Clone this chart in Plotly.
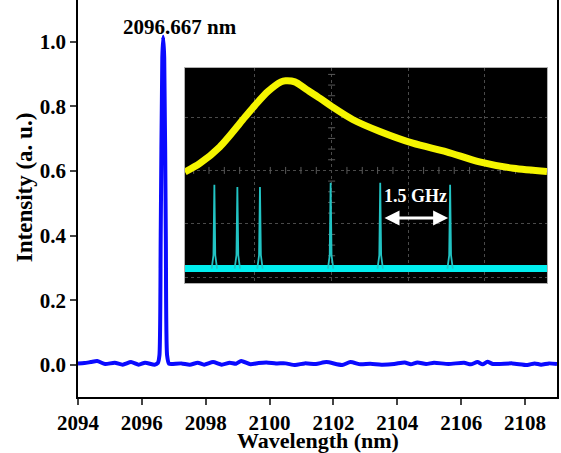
import plotly.graph_objects as go

# ---------------- main spectrum data ----------------
wavelength = [2094.0, 2094.2, 2094.4, 2094.6, 2094.85, 2095.15, 2095.4, 2095.66, 2095.9, 2096.1,
              2096.4, 2096.5, 2096.55, 2096.59, 2096.64, 2096.667, 2096.70, 2096.75, 2096.79, 2096.85,
              2096.93, 2097.24, 2097.5, 2097.75, 2097.95, 2098.23, 2098.5, 2098.75, 2098.95, 2099.11,
              2099.4, 2099.65, 2099.9, 2100.2, 2100.5, 2100.8, 2101.1, 2101.45, 2101.78, 2102.27,
              2102.53, 2102.85, 2103.15, 2103.5, 2103.9, 2104.23, 2104.42, 2104.63, 2104.9, 2105.15,
              2105.6, 2106.09, 2106.3, 2106.51, 2106.67, 2106.82, 2107.0, 2107.6, 2108.07, 2108.3,
              2108.5, 2108.75, 2109.0]
intensity = [0.005, 0.006, 0.009, 0.012, 0.003, 0.007, 0.001, 0.009, 0.001, 0.007,
             0.001, 0.006, 0.03, 0.40, 0.95, 1.015, 0.95, 0.40, 0.03, 0.004,
             0.003, 0.005, 0.001, 0.007, 0.001, 0.009, 0.001, 0.007, 0.004, 0.0125,
             0.002, 0.006, 0.008, 0.005, 0.005, 0.000, 0.005, 0.003, 0.009, 0.000,
             0.009, 0.002, 0.004, 0.001, 0.003, 0.008, 0.002, 0.008, 0.003, 0.007,
             0.003, 0.007, 0.002, 0.009, 0.002, 0.010, 0.003, 0.005, 0.000, 0.005,
             0.001, 0.005, 0.003]

x_ticks = [2094, 2096, 2098, 2100, 2102, 2104, 2106, 2108]
y_ticks = [0.0, 0.2, 0.4, 0.6, 0.8, 1.0]

# ---------------- inset (oscilloscope) data, in screen divisions ----------------
pulse_x = [-0.913, -0.72, -0.46, -0.13, 0.0, 0.17, 0.34, 0.40, 0.52, 0.67, 0.85, 1.0, 1.28, 1.63,
           2.06, 2.5, 2.93, 3.37, 3.81]
pulse_y = [1.97, 2.13, 2.44, 3.0, 3.22, 3.48, 3.66, 3.68, 3.66, 3.52, 3.35, 3.2, 2.95, 2.73,
           2.51, 2.35, 2.16, 2.04, 1.98]

spike_x = [-0.53, -0.23, 0.065, 0.987, 1.634, 2.546]
spike_top = [1.73, 1.69, 1.69, 1.77, 1.77, 1.73]
rf_base = 0.16
inset_x_range = [-0.913, 3.81]
inset_y_range = [-0.11, 3.92]
center_ticks_x = [-0.8, -0.6, -0.4, -0.2, 0.2, 0.4, 0.6, 0.8, 1.2, 1.4, 1.6, 1.8, 2.2, 2.4, 2.6, 2.8, 3.2, 3.4, 3.6]
center_ticks_y = [0.2, 0.4, 0.6, 0.8, 1.2, 1.4, 1.6, 1.8, 2.2, 2.4, 2.6, 2.8, 3.2, 3.4, 3.6, 3.8]

FONT = "Liberation Serif, Times New Roman, serif"

fig = go.Figure()

fig.add_trace(go.Scatter(x=wavelength, y=intensity, mode="lines",
                         line=dict(color="#0a0aff", width=4, shape="spline", smoothing=0.6),
                         showlegend=False, hoverinfo="skip", xaxis="x", yaxis="y"))

# inset graticule center ticks
fig.add_trace(go.Scatter(x=center_ticks_x, y=[2.0] * len(center_ticks_x), mode="markers",
                         marker=dict(symbol="line-ns", size=5, line=dict(color="#5a5a5a", width=1)),
                         showlegend=False, hoverinfo="skip", xaxis="x2", yaxis="y2"))
fig.add_trace(go.Scatter(x=[1.0] * len(center_ticks_y), y=center_ticks_y, mode="markers",
                         marker=dict(symbol="line-ew", size=5, line=dict(color="#5a5a5a", width=1)),
                         showlegend=False, hoverinfo="skip", xaxis="x2", yaxis="y2"))

# RF baseline band
fig.add_trace(go.Scatter(x=inset_x_range, y=[rf_base, rf_base], mode="lines",
                         line=dict(color="#00eeee", width=7),
                         showlegend=False, hoverinfo="skip", xaxis="x2", yaxis="y2"))

# RF spikes
sx, sy = [], []
for xv, tv in zip(spike_x, spike_top):
    sx += [xv - 0.035, xv - 0.012, xv, xv + 0.012, xv + 0.035, None]
    sy += [rf_base, rf_base + 0.25, tv, rf_base + 0.25, rf_base, None]
fig.add_trace(go.Scatter(x=sx, y=sy, mode="lines", line=dict(color="#22c4c4", width=1.8),
                         showlegend=False, hoverinfo="skip", xaxis="x2", yaxis="y2", connectgaps=False))

# pulse trace
fig.add_trace(go.Scatter(x=pulse_x, y=pulse_y, mode="lines",
                         line=dict(color="#f5f500", width=7, shape="spline", smoothing=0.8),
                         showlegend=False, hoverinfo="skip", xaxis="x2", yaxis="y2"))

# inset black background
fig.add_shape(type="rect", xref="x2 domain", yref="y2 domain", x0=0, x1=1, y0=0, y1=1,
              fillcolor="black", line=dict(width=0), layer="below")

# arrow 1.5 GHz
fig.add_annotation(x=2.52, y=1.11, ax=1.67, ay=1.11, xref="x2", yref="y2", axref="x2", ayref="y2",
                   text="", showarrow=True, arrowhead=2, arrowside="end+start", arrowsize=1,
                   arrowwidth=3, arrowcolor="white")
fig.add_annotation(x=2.09, y=1.52, xref="x2", yref="y2", text="1.5 GHz", showarrow=False,
                   font=dict(family=FONT, size=18, color="white", weight="bold"))

# peak label
fig.add_annotation(x=2097.19, y=1.045, xref="x", yref="y", text="2096.667 nm", showarrow=False,
                   font=dict(family=FONT, size=21, color="black", weight="bold"))

# axis titles
title_font = dict(family=FONT, size=22, color="black", weight="bold")
fig.add_annotation(x=0.5, y=-0.1108, xref="paper", yref="paper", text="Wavelength (nm)",
                   showarrow=False, font=title_font, xanchor="center", yanchor="middle")
fig.add_annotation(x=-0.111, y=0.528, xref="paper", yref="paper", text="Intensity (a. u.)",
                   showarrow=False, font=dict(family=FONT, size=23, color="black", weight="bold"),
                   textangle=-90, xanchor="center", yanchor="middle")

axis_font = dict(family=FONT, size=21, color="black", weight="bold")

fig.update_layout(
    width=561, height=453,
    margin=dict(l=78, r=4, t=0, b=56),
    paper_bgcolor="white", plot_bgcolor="rgba(0,0,0,0)",
    xaxis=dict(range=[2094, 2109], tickvals=x_ticks, ticks="outside", ticklen=6, tickwidth=1.5,
               showline=True, linewidth=1.5, linecolor="black", mirror=False, showgrid=False,
               zeroline=False, tickfont=axis_font, automargin=False),
    yaxis=dict(range=[-0.099, 1.129], tickvals=y_ticks, tickformat=".1f", ticks="outside", ticklen=6,
               tickwidth=1.5, showline=True, linewidth=1.5, linecolor="black", mirror=True,
               showgrid=False, zeroline=False, tickfont=axis_font, automargin=False),
    xaxis2=dict(domain=[0.2234, 0.9791], anchor="y2", range=inset_x_range, dtick=1, tick0=0,
                showgrid=True, gridcolor="#4a4a4a", griddash="dot", gridwidth=1,
                showticklabels=False, ticks="", zeroline=False, automargin=False,
                showline=True, mirror=True, linecolor="#b0b0b0", linewidth=1),
    yaxis2=dict(domain=[0.2872, 0.8287], anchor="x2", range=inset_y_range, dtick=1, tick0=0,
                showgrid=True, gridcolor="#4a4a4a", griddash="dot", gridwidth=1,
                showticklabels=False, ticks="", zeroline=False, automargin=False,
                showline=True, mirror=True, linecolor="#b0b0b0", linewidth=1),
)

fig.write_html("out.html", config={"displayModeBar": False},
               post_script="document.body.style.margin='0';document.body.style.overflow='hidden';")
